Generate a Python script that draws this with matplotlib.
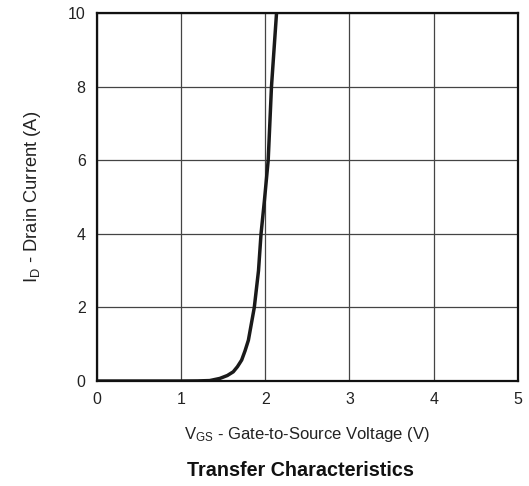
import numpy as np
import matplotlib.pyplot as plt

plt.rcParams['font.family'] = ['Liberation Sans', 'DejaVu Sans']
plt.rcParams['mathtext.default'] = 'regular'

# transfer curve
vgs = [0.0, 0.5, 1.0, 1.2, 1.34, 1.46, 1.55, 1.62, 1.67, 1.72, 1.76, 1.80, 1.87, 1.92, 1.95, 1.99, 2.035, 2.074, 2.134]
i_d = [0.0, 0.0, 0.0, 0.003, 0.012, 0.07, 0.15, 0.25, 0.39, 0.57, 0.82, 1.11, 2.0, 3.0, 4.0, 4.9, 6.0, 8.0, 10.0]

x_ticks = [0, 1, 2, 3, 4, 5]
y_ticks = [0, 2, 4, 6, 8, 10]

fig = plt.figure(figsize=(5.29, 4.86), dpi=100)
ax = fig.add_axes([0.183, 0.216, 0.796, 0.757])

ax.plot(vgs, i_d, color="#1a1a1a", lw=2.5, solid_joinstyle="round", solid_capstyle="round")

ax.set_xlim(0, 5)
ax.set_ylim(0, 10)
ax.set_xticks(x_ticks)
ax.set_yticks(y_ticks)
ax.grid(True, color="#444444", lw=0.9)
ax.tick_params(length=0, labelsize=11.5, pad=8, colors="#222222")
for s in ax.spines.values():
    s.set_linewidth(1.6)
    s.set_color("#111111")

ax.set_xlabel("V$_{GS}$ - Gate-to-Source Voltage (V)", fontsize=12, labelpad=13, color="#222222")
ax.set_ylabel("I$_{D}$ - Drain Current (A)", fontsize=13.2, labelpad=18, color="#222222")

fig.text(0.568, 0.031, "Transfer Characteristics", ha="center", va="center",
         fontsize=14.2, fontweight="bold", color="#111111")

fig.savefig("out.png", dpi=100)
